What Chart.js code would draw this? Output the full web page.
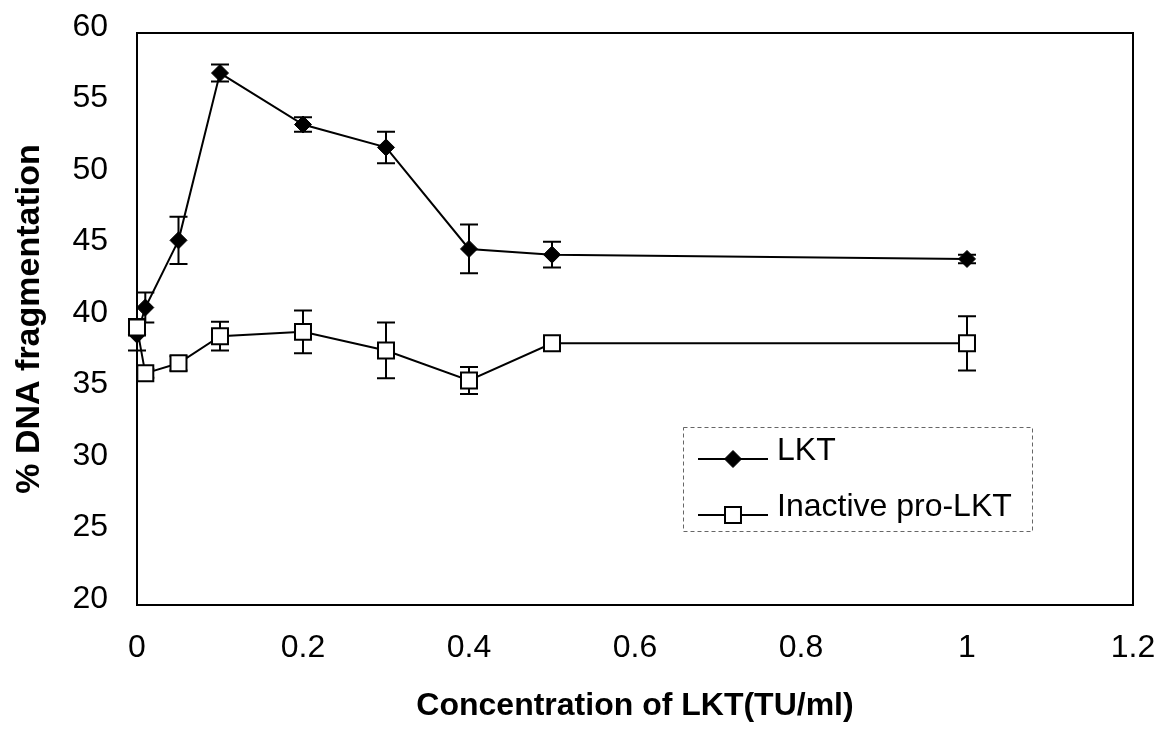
<!DOCTYPE html>
<html lang="en">
<head>
    <meta charset="UTF-8">
    <title>% DNA fragmentation vs LKT concentration</title>
    <script src="https://cdn.jsdelivr.net/npm/chart.js"></script>
    <style>
        html, body { margin: 0; padding: 0; background: #fff; }
        .chart-container { position: relative; width: 1166px; height: 730px; }
    </style>
</head>
<body>
    <div class="chart-container">
        <canvas id="fragChart"></canvas>
    </div>

    <script>
        // Concentration of LKT (TU/ml)
        const concentrations = [0, 0.01, 0.05, 0.1, 0.2, 0.3, 0.4, 0.5, 1.0];

        // % DNA fragmentation: means and +/- error
        const lktMeans    = [38.9, 40.8, 45.5, 57.2, 53.6, 52.0, 44.9, 44.5, 44.2];
        const lktErrors   = [1.1, 1.05, 1.65, 0.6, 0.5, 1.1, 1.7, 0.9, 0.3];
        const proLktMeans  = [39.4, 36.2, 36.9, 38.8, 39.1, 37.8, 35.7, 38.3, 38.3];
        const proLktErrors = [0.3, 0.3, 0.5, 1.0, 1.5, 1.95, 0.95, 0.2, 1.9];

        // axis ticks
        const xTickValues = [0, 0.2, 0.4, 0.6, 0.8, 1, 1.2];
        const yTickValues = [20, 25, 30, 35, 40, 45, 50, 55, 60];

        const toPoints = (xs, ys) => xs.map((x, i) => ({ x: x, y: ys[i] }));

        // vertical error bars with caps, drawn under the markers
        const errorBars = {
            id: 'errorBars',
            beforeDatasetsDraw(chart) {
                const { ctx, scales: { x, y } } = chart;
                ctx.save();
                ctx.strokeStyle = '#000';
                ctx.lineWidth = 2;
                chart.data.datasets.forEach(ds => {
                    ds.data.forEach((p, j) => {
                        const px = x.getPixelForValue(p.x);
                        const top = y.getPixelForValue(p.y + ds.errors[j]);
                        const bot = y.getPixelForValue(p.y - ds.errors[j]);
                        ctx.beginPath();
                        ctx.moveTo(px, top); ctx.lineTo(px, bot);
                        ctx.moveTo(px - 9, top); ctx.lineTo(px + 9, top);
                        ctx.moveTo(px - 9, bot); ctx.lineTo(px + 9, bot);
                        ctx.stroke();
                    });
                });
                ctx.restore();
            }
        };

        // box around the plot area
        const plotFrame = {
            id: 'plotFrame',
            beforeDatasetsDraw(chart) {
                const { ctx, chartArea: a } = chart;
                ctx.save();
                ctx.strokeStyle = '#000';
                ctx.lineWidth = 2;
                ctx.strokeRect(a.left, a.top, a.right - a.left, a.bottom - a.top);
                ctx.restore();
            }
        };

        // legend inside the plot, dotted box
        const boxLegend = {
            id: 'boxLegend',
            afterDraw(chart) {
                const { ctx, chartArea: a } = chart;
                const left = a.left + 546, top = a.top + 394, w = 349, h = 104;
                ctx.save();
                ctx.setLineDash([4, 3]);
                ctx.strokeStyle = '#666';
                ctx.lineWidth = 1;
                ctx.strokeRect(left + 0.5, top + 0.5, w, h);
                ctx.setLineDash([]);
                chart.data.datasets.forEach((ds, i) => {
                    const ly = top + 32 + i * 56;
                    ctx.strokeStyle = ds.borderColor;
                    ctx.lineWidth = ds.borderWidth;
                    ctx.beginPath();
                    ctx.moveTo(left + 15, ly);
                    ctx.lineTo(left + 85, ly);
                    ctx.stroke();
                    ctx.fillStyle = ds.pointBackgroundColor;
                    ctx.strokeStyle = ds.pointBorderColor;
                    ctx.lineWidth = ds.pointBorderWidth;
                    Chart.helpers.drawPoint(ctx, {
                        pointStyle: ds.pointStyle,
                        radius: ds.pointRadius,
                        borderWidth: ds.pointBorderWidth,
                        rotation: 0
                    }, left + 50, ly);
                    ctx.fillStyle = '#000';
                    ctx.font = '32px Arial, "Liberation Sans", sans-serif';
                    ctx.textAlign = 'left';
                    ctx.textBaseline = 'alphabetic';
                    ctx.fillText(ds.label, left + 94, ly + 1);
                });
                ctx.restore();
            }
        };

        const tickFont = { family: 'Arial, "Liberation Sans", sans-serif', size: 32 };

        new Chart(document.getElementById('fragChart'), {
            type: 'line',
            data: {
                datasets: [
                    {
                        label: 'LKT',
                        data: toPoints(concentrations, lktMeans),
                        errors: lktErrors,
                        borderColor: '#000',
                        borderWidth: 2,
                        pointStyle: 'rectRot',
                        pointRadius: 8.5,
                        pointBackgroundColor: '#000',
                        pointBorderColor: '#000',
                        pointBorderWidth: 1,
                        tension: 0,
                        clip: false,
                        order: 1
                    },
                    {
                        label: 'Inactive pro-LKT',
                        data: toPoints(concentrations, proLktMeans),
                        errors: proLktErrors,
                        borderColor: '#000',
                        borderWidth: 2,
                        pointStyle: 'rect',
                        pointRadius: 11.3,
                        pointBackgroundColor: '#fff',
                        pointBorderColor: '#000',
                        pointBorderWidth: 2,
                        tension: 0,
                        clip: false,
                        order: 0
                    }
                ]
            },
            options: {
                responsive: true,
                maintainAspectRatio: false,
                animation: false,
                layout: { padding: { top: 33, right: 33, left: 0, bottom: 0 } },
                plugins: {
                    legend: { display: false },
                    tooltip: { enabled: false }
                },
                scales: {
                    x: {
                        type: 'linear',
                        min: 0,
                        max: 1.2,
                        afterBuildTicks: s => { s.ticks = xTickValues.map(v => ({ value: v })); },
                        afterFit: s => { s.height = 125; s.paddingLeft = 0; s.paddingRight = 0; },
                        grid: { display: false, drawTicks: false },
                        border: { display: false },
                        ticks: {
                            font: tickFont, color: '#000', padding: 24, maxRotation: 0,
                            callback: v => String(+v.toFixed(2))
                        },
                        title: {
                            display: true,
                            text: 'Concentration of LKT(TU/ml)',
                            font: { family: 'Arial, "Liberation Sans", sans-serif', size: 32, weight: 'bold' },
                            color: '#000',
                            padding: { top: 0, bottom: 5 }
                        }
                    },
                    y: {
                        min: 20,
                        max: 60,
                        afterBuildTicks: s => { s.ticks = yTickValues.map(v => ({ value: v })); },
                        afterFit: s => { s.width = 137; s.paddingTop = 0; s.paddingBottom = 0; },
                        grid: { display: false, drawTicks: false },
                        border: { display: false },
                        ticks: { font: tickFont, color: '#000', padding: 29, labelOffset: -6 },
                        title: {
                            display: true,
                            text: '% DNA fragmentation',
                            font: { family: 'Arial, "Liberation Sans", sans-serif', size: 34, weight: 'bold' },
                            color: '#000',
                            padding: { top: 9, bottom: 0 }
                        }
                    }
                }
            },
            plugins: [plotFrame, errorBars, boxLegend]
        });
    </script>
</body>
</html>
